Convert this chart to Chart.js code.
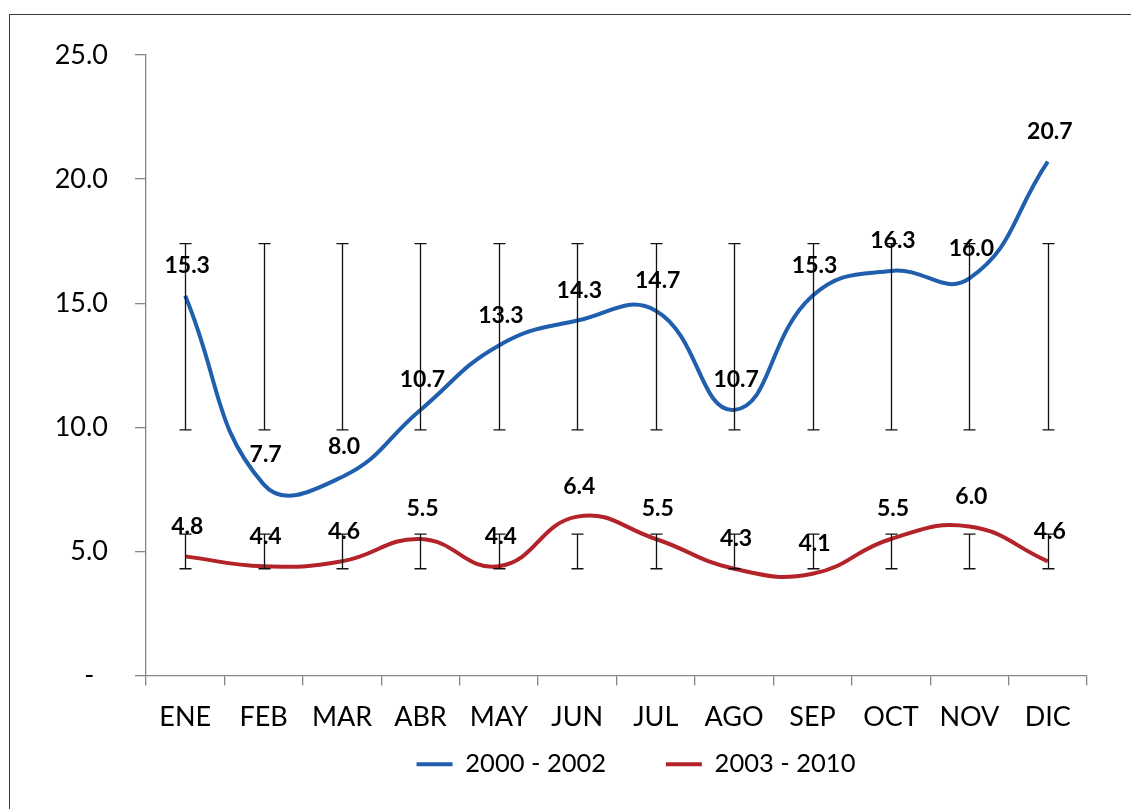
<!DOCTYPE html>
<html>
<head>
<meta charset="utf-8">
<script src="https://cdn.jsdelivr.net/npm/chart.js@4"></script>
<style>
  html, body { margin: 0; padding: 0; background: #fff; overflow: hidden; }
  #wrap { position: absolute; left: 0; top: 0; width: 1131px; height: 809px; }
  #frame { position: absolute; left: 9px; top: 14px; width: 1200px; height: 900px;
           border-top: 1px solid #3a3a3a; border-left: 1px solid #3a3a3a; pointer-events: none; }
</style>
</head>
<body>
<div id="wrap"><canvas id="chart"></canvas></div>
<div id="frame"></div>
<script>
const months = ['ENE', 'FEB', 'MAR', 'ABR', 'MAY', 'JUN', 'JUL', 'AGO', 'SEP', 'OCT', 'NOV', 'DIC'];
const serie2000 = [15.3, 7.7, 8.0, 10.7, 13.3, 14.3, 14.7, 10.7, 15.3, 16.3, 16.0, 20.7];
const serie2003 = [4.8, 4.4, 4.6, 5.5, 4.4, 6.4, 5.5, 4.3, 4.1, 5.5, 6.0, 4.6];
// error bars (same span every month)
const err2000Low  = [9.9, 9.9, 9.9, 9.9, 9.9, 9.9, 9.9, 9.9, 9.9, 9.9, 9.9, 9.9];
const err2000High = [17.4, 17.4, 17.4, 17.4, 17.4, 17.4, 17.4, 17.4, 17.4, 17.4, 17.4, 17.4];
const err2003Low  = [4.3, 4.3, 4.3, 4.3, 4.3, 4.3, 4.3, 4.3, 4.3, 4.3, 4.3, 4.3];
const err2003High = [5.7, 5.7, 5.7, 5.7, 5.7, 5.7, 5.7, 5.7, 5.7, 5.7, 5.7, 5.7];
const yTicks = [0, 5, 10, 15, 20, 25];

const FONT = 'Lato, "Liberation Sans", sans-serif';

const errorBars = {
  id: 'errorBars',
  afterDatasetsDraw(chart) {
    const ctx = chart.ctx;
    const y = chart.scales.y;
    ctx.save();
    ctx.strokeStyle = '#111';
    ctx.lineWidth = 1.3;
    chart.data.datasets.forEach((ds, i) => {
      const meta = chart.getDatasetMeta(i);
      meta.data.forEach((pt, j) => {
        const x = Math.round(pt.x) + 0.5;
        const y1 = y.getPixelForValue(ds.errLow[j]);
        const y2 = y.getPixelForValue(ds.errHigh[j]);
        ctx.beginPath();
        ctx.moveTo(x, y1); ctx.lineTo(x, y2);
        ctx.moveTo(x - 6, y1); ctx.lineTo(x + 6, y1);
        ctx.moveTo(x - 6, y2); ctx.lineTo(x + 6, y2);
        ctx.stroke();
      });
    });
    ctx.restore();
  }
};

const valueLabels = {
  id: 'valueLabels',
  afterDraw(chart) {
    const ctx = chart.ctx;
    ctx.save();
    ctx.font = 'bold 23px ' + FONT;
    ctx.fillStyle = '#000';
    ctx.textAlign = 'center';
    ctx.textBaseline = 'middle';
    chart.data.datasets.forEach((ds, i) => {
      chart.getDatasetMeta(i).data.forEach((pt, j) => {
        ctx.fillText(ds.data[j].toFixed(1), pt.x + 2, pt.y - 30);
      });
    });
    ctx.restore();
  }
};

const legendShift = {
  id: 'legendShift',
  afterLayout(chart, args, opts) {
    const lg = chart.legend;
    if (!lg) return;
    lg.left += opts.dx; lg.right += opts.dx;
  }
};

new Chart(document.getElementById('chart'), {
  type: 'line',
  data: {
    labels: months,
    datasets: [
      {
        label: '2000 - 2002',
        data: serie2000,
        errLow: err2000Low,
        errHigh: err2000High,
        borderColor: '#1f5fae',
        backgroundColor: '#1f5fae',
        borderWidth: 4,
        pointRadius: 0,
        tension: 0.45
      },
      {
        label: '2003 - 2010',
        data: serie2003,
        errLow: err2003Low,
        errHigh: err2003High,
        borderColor: '#b2232a',
        backgroundColor: '#b2232a',
        borderWidth: 4,
        pointRadius: 0,
        tension: 0.45
      }
    ]
  },
  options: {
    responsive: true,
    maintainAspectRatio: false,
    animation: false,
    layout: { padding: { left: 0, right: 44, top: 55, bottom: 22 } },
    elements: { line: { capBezierPoints: false } },
    scales: {
      x: {
        offset: true,
        grid: { offset: true, drawOnChartArea: false, drawTicks: true, tickLength: 10, color: '#868686', lineWidth: 1.3 },
        border: { color: '#868686', width: 1.3 },
        ticks: { color: '#000', font: { family: FONT, size: 27 }, padding: 16, maxRotation: 0 },
        afterFit(scale) { scale.height = 62; }
      },
      y: {
        min: 0,
        max: 25,
        afterBuildTicks(scale) { scale.ticks = yTicks.map(v => ({ value: v })); },
        grid: { drawOnChartArea: false, drawTicks: true, tickLength: 11, color: '#868686', lineWidth: 1.3 },
        border: { color: '#868686', width: 1.3 },
        ticks: {
          color: '#000',
          font: { family: FONT, size: 27 },
          padding: 27,
          callback: v => v === 0 ? '-  ' : v.toFixed(1)
        },
        afterFit(scale) { scale.width = 146; }
      }
    },
    plugins: {
      legend: {
        position: 'bottom',
        labels: {
          usePointStyle: true,
          pointStyle: 'line',
          pointStyleWidth: 36,
          color: '#000',
          font: { family: FONT, size: 25.5 },
          padding: 14,
          generateLabels(chart) {
            const items = Chart.defaults.plugins.legend.labels.generateLabels(chart);
            // wider gap after the first entry
            items[0].text += '       ';
            return items;
          }
        }
      },
      legendShift: { dx: 92.5 },
      tooltip: { enabled: false }
    }
  },
  plugins: [errorBars, valueLabels, legendShift]
});
</script>
</body>
</html>
